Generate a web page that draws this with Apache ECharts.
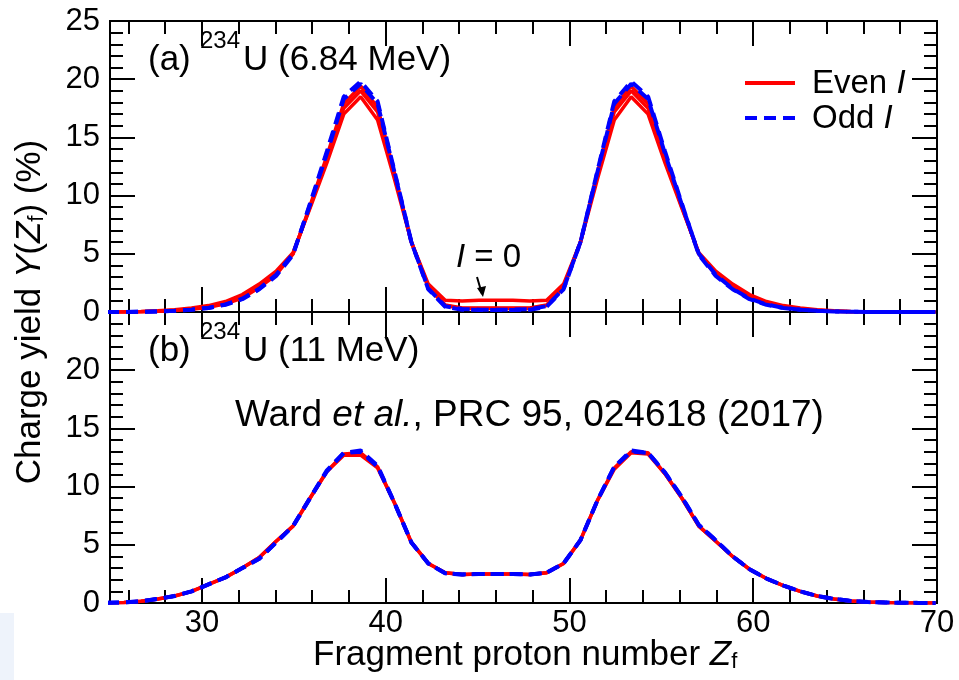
<!DOCTYPE html>
<html>
<head>
<meta charset="utf-8">
<script src="https://cdn.jsdelivr.net/npm/echarts@6/dist/echarts.min.js"></script>
<style>
  html, body { margin: 0; padding: 0; background: #fff; }
  #chart { width: 959px; height: 680px; }
</style>
</head>
<body>
<div id="chart"></div>
<script>
// fragment Z grid
const zValues = [24.84, 25.76, 26.68, 27.60, 28.52, 29.44, 30.36, 31.28, 32.20, 33.12,
  34.04, 34.96, 35.88, 36.80, 37.72, 38.64, 39.56, 40.48, 41.40, 42.32,
  43.24, 44.16, 45.08, 46.00, 46.92, 47.84, 48.76, 49.68, 50.60, 51.52,
  52.44, 53.36, 54.28, 55.20, 56.12, 57.04, 57.96, 58.88, 59.80, 60.72,
  61.64, 62.56, 63.48, 64.40, 65.32, 66.24, 67.16, 68.08, 69.00, 69.92]

// (a) 6.84 MeV
const topEvenI0 = [0, 0.02, 0.05, 0.1, 0.2, 0.35, 0.55, 0.9, 1.5, 2.4,
  3.5, 5.1, 8.9, 12.8, 17.0, 18.5, 16.5, 11.4, 6.0, 2.4,
  1.0, 0.95, 1.0, 1.0, 1.0, 0.95, 1.0, 2.4, 6.0, 11.4,
  16.5, 18.5, 17.0, 12.8, 8.9, 5.1, 3.5, 2.4, 1.5, 0.9,
  0.55, 0.35, 0.2, 0.1, 0.05, 0.02, 0, 0, 0, 0]
const topEvenI2 = [0, 0, 0.03, 0.07, 0.14, 0.27, 0.45, 0.75, 1.3, 2.2,
  3.3, 5.0, 9.0, 13.2, 17.5, 19.0, 17.2, 11.8, 6.0, 2.2,
  0.6, 0.35, 0.35, 0.35, 0.35, 0.35, 0.6, 2.2, 6.0, 11.8,
  17.2, 19.0, 17.5, 13.2, 9.0, 5.0, 3.3, 2.2, 1.3, 0.75,
  0.45, 0.27, 0.14, 0.07, 0.03, 0, 0, 0, 0, 0]
const topEvenI4 = [0, 0, 0.02, 0.06, 0.12, 0.23, 0.4, 0.7, 1.2, 2.1,
  3.2, 5.0, 9.1, 13.4, 17.9, 19.4, 17.6, 11.9, 6.0, 2.1,
  0.55, 0.3, 0.3, 0.3, 0.3, 0.3, 0.55, 2.1, 6.0, 11.9,
  17.6, 19.4, 17.9, 13.4, 9.1, 5.0, 3.2, 2.1, 1.2, 0.7,
  0.4, 0.23, 0.12, 0.06, 0.02, 0, 0, 0, 0, 0]
const topOddI1 = [0, 0, 0.02, 0.05, 0.1, 0.2, 0.35, 0.65, 1.15, 2.0,
  3.2, 5.0, 9.2, 13.6, 18.3, 19.6, 17.9, 12.0, 6.0, 2.0,
  0.5, 0.25, 0.2, 0.2, 0.2, 0.25, 0.5, 2.0, 6.0, 12.0,
  17.9, 19.6, 18.3, 13.6, 9.2, 5.0, 3.2, 2.0, 1.15, 0.65,
  0.35, 0.2, 0.1, 0.05, 0.02, 0, 0, 0, 0, 0]
const topOddI3 = [0, 0, 0.02, 0.05, 0.1, 0.2, 0.35, 0.62, 1.1, 1.95,
  3.1, 4.9, 9.3, 13.8, 18.5, 19.8, 18.1, 12.1, 6.0, 1.95,
  0.45, 0.2, 0.18, 0.18, 0.18, 0.2, 0.45, 1.95, 6.0, 12.1,
  18.1, 19.8, 18.5, 13.8, 9.3, 4.9, 3.1, 1.95, 1.1, 0.62,
  0.35, 0.2, 0.1, 0.05, 0.02, 0, 0, 0, 0, 0]

// (b) 11 MeV
const botEvenI0 = [0.02, 0.05, 0.15, 0.35, 0.6, 1.0, 1.6, 2.2, 3.0, 3.9,
  5.3, 6.6, 9.0, 11.3, 12.7, 12.7, 11.6, 8.6, 5.2, 3.4,
  2.6, 2.45, 2.5, 2.5, 2.5, 2.45, 2.6, 3.4, 5.4, 8.8,
  11.5, 12.9, 12.8, 11.1, 9.0, 6.6, 5.3, 4.0, 2.9, 2.1,
  1.5, 1.0, 0.6, 0.35, 0.18, 0.08, 0.04, 0.02, 0.01, 0]
const botEvenI2 = [0.02, 0.05, 0.15, 0.35, 0.6, 1.0, 1.6, 2.2, 3.0, 3.9,
  5.3, 6.6, 9.0, 11.3, 12.8, 12.9, 11.7, 8.6, 5.2, 3.4,
  2.6, 2.45, 2.5, 2.5, 2.5, 2.45, 2.6, 3.4, 5.4, 8.8,
  11.6, 13.0, 12.9, 11.1, 9.0, 6.6, 5.3, 4.0, 2.9, 2.1,
  1.5, 1.0, 0.6, 0.35, 0.18, 0.08, 0.04, 0.02, 0.01, 0]
const botOddI1 = [0.02, 0.05, 0.15, 0.35, 0.6, 1.0, 1.6, 2.2, 3.0, 3.8,
  5.2, 6.6, 9.0, 11.3, 12.9, 13.0, 11.7, 8.6, 5.2, 3.4,
  2.55, 2.45, 2.5, 2.5, 2.5, 2.45, 2.6, 3.4, 5.4, 8.8,
  11.7, 13.0, 12.9, 11.2, 9.1, 6.7, 5.4, 4.0, 2.9, 2.1,
  1.5, 1.0, 0.6, 0.35, 0.18, 0.08, 0.04, 0.02, 0.01, 0]
const botOddI3 = [0.02, 0.05, 0.15, 0.35, 0.6, 1.0, 1.6, 2.2, 3.0, 3.8,
  5.2, 6.6, 9.0, 11.4, 12.9, 13.1, 11.8, 8.6, 5.2, 3.4,
  2.55, 2.45, 2.5, 2.5, 2.5, 2.45, 2.6, 3.4, 5.4, 8.8,
  11.7, 13.1, 12.9, 11.2, 9.1, 6.7, 5.4, 4.0, 2.9, 2.1,
  1.5, 1.0, 0.6, 0.35, 0.18, 0.08, 0.04, 0.02, 0.01, 0]

// tick positions on the Z axis (axis starts at 25, so ticks are listed)
const xMajorTicks = [30, 40, 50, 60, 70]
const xMinorTicks = [26, 28, 32, 34, 36, 38, 42, 44, 46, 48, 52, 54, 56, 58, 62, 64, 66, 68]

const FONT = '"Liberation Sans", Arial, Helvetica, sans-serif'
const RED = '#ff0000'
const BLUE = '#0000ff'

const chart = echarts.init(document.getElementById('chart'))

const black = () => ({ color: '#000', width: 2 })

function pairs(arr) {
  return zValues.map((z, i) => [z, arr[i]])
}

// each panel is built from 4 stacked grids with one x and one y axis each
const panelTops = [21, 312]
const grids = []
const xAxes = []
const yAxes = []

function xAxis(g, pos, ticks, len, labels) {
  return {
    type: 'value', gridIndex: g, position: pos,
    min: 25, max: 70,
    axisLine: { show: true, onZero: false, lineStyle: black() },
    axisTick: { show: true, inside: true, length: len, customValues: ticks, lineStyle: black() },
    splitLine: { show: false },
    axisLabel: {
      show: labels, customValues: ticks, color: '#000', fontSize: 31, fontFamily: FONT, margin: 5
    }
  }
}
function yAxis(g, pos, shown, labels, hideTop) {
  return {
    type: 'value', gridIndex: g, position: pos, show: shown,
    min: 0, max: 25, interval: 5,
    axisLine: { show: true, onZero: false, lineStyle: black() },
    axisTick: { show: true, inside: true, length: 25, lineStyle: black() },
    minorTick: { show: true, splitNumber: 5, length: 13, lineStyle: black() },
    splitLine: { show: false },
    axisLabel: {
      show: labels, color: '#000', fontSize: 31, fontFamily: FONT, margin: 10,
      formatter: v => (hideTop && v === 25 ? '' : String(v))
    }
  }
}

panelTops.forEach((top, p) => {
  const base = p * 4
  for (let k = 0; k < 4; k++) grids.push({ left: 110, right: 22, top: top, height: 291 })
  xAxes.push(xAxis(base, 'bottom', xMajorTicks, 25, p === 1))
  xAxes.push(xAxis(base + 1, 'bottom', xMinorTicks, 13, false))
  xAxes.push(xAxis(base + 2, 'top', xMajorTicks, 25, false))
  xAxes.push(xAxis(base + 3, 'top', xMinorTicks, 13, false))
  yAxes.push(yAxis(base, 'left', true, true, p === 1))
  yAxes.push(yAxis(base + 1, 'right', true, false, false))
  yAxes.push(yAxis(base + 2, 'left', false, false, false))
  yAxes.push(yAxis(base + 3, 'left', false, false, false))
})

function line(name, arr, panel, dashed) {
  return {
    name: name, type: 'line', xAxisIndex: panel * 4, yAxisIndex: panel * 4,
    data: pairs(arr), symbol: 'none',
    lineStyle: dashed
      ? { color: BLUE, width: 4, type: [12, 7] }
      : { color: RED, width: 3.5 }
  }
}

const txt = (x, y, text, size) => ({
  type: 'text', x: x, y: y, silent: true,
  style: { text: text, fill: '#000', font: size + 'px ' + FONT, verticalAlign: 'middle' }
})
function richStyle(size) {
  return {
    n: { fontSize: size, fontFamily: FONT, color: '#000' },
    i: { fontSize: size, fontFamily: FONT, fontStyle: 'italic', color: '#000' },
    s: { fontSize: Math.round(size * 0.62), fontFamily: FONT, color: '#000', verticalAlign: 'bottom', lineHeight: 22 }
  }
}
const richText = (x, y, text, size, align, rotation) => ({
  type: 'text', x: x, y: y, silent: true, rotation: rotation || 0,
  style: { text: text, rich: richStyle(size), verticalAlign: 'middle', align: align || 'left' }
})

const option = {
  animation: false,
  grid: grids,
  xAxis: xAxes,
  yAxis: yAxes,
  series: [
    line('Even I=0', topEvenI0, 0, false),
    line('Even I=2', topEvenI2, 0, false),
    line('Even I=4', topEvenI4, 0, false),
    line('Odd I=1', topOddI1, 0, true),
    line('Odd I=3', topOddI3, 0, true),
    line('Even I=0', botEvenI0, 1, false),
    line('Even I=2', botEvenI2, 1, false),
    line('Odd I=1', botOddI1, 1, true),
    line('Odd I=3', botOddI3, 1, true)
  ],
  graphic: [
    // panel labels
    txt(148, 60, '(a)', 35),
    txt(200, 41, '234', 24),
    txt(243, 60, 'U (6.84 MeV)', 35),
    txt(148, 351, '(b)', 35),
    txt(200, 332, '234', 24),
    txt(243, 351, 'U (11 MeV)', 35),
    richText(235, 416, '{n|Ward }{i|et al.}{n|, PRC 95, 024618 (2017)}', 37),
    // I = 0 annotation
    richText(456, 258, '{i|I}{n| = 0}', 33),
    { type: 'line', silent: true, shape: { x1: 477, y1: 277, x2: 482, y2: 294 },
      style: { stroke: '#000', lineWidth: 2 } },
    { type: 'polygon', silent: true, shape: { points: [[477, 288], [483, 297], [486, 286]] },
      style: { fill: '#000' } },
    // legend
    { type: 'line', silent: true, shape: { x1: 745, y1: 83, x2: 795, y2: 83 },
      style: { stroke: RED, lineWidth: 4 } },
    { type: 'line', silent: true, shape: { x1: 745, y1: 118, x2: 795, y2: 118 },
      style: { stroke: BLUE, lineWidth: 4, lineDash: [12, 7] } },
    richText(812, 84, '{n|Even }{i|I}', 33),
    richText(812, 119, '{n|Odd }{i|I}', 33),
    // axis titles
    richText(30, 312, '{n|Charge yield }{i|Y}{n|(}{i|Z}{s|f}{n|) (%)}', 35, 'center', Math.PI / 2),
    richText(313, 655, '{n|Fragment proton number }{i|Z}{s|f}', 35),
    // page fragment at lower left
    { type: 'rect', silent: true, z: -10, shape: { x: 0, y: 613, width: 14, height: 67 },
      style: { fill: '#eef3fb' } }
  ]
}

chart.setOption(option)
</script>
</body>
</html>
